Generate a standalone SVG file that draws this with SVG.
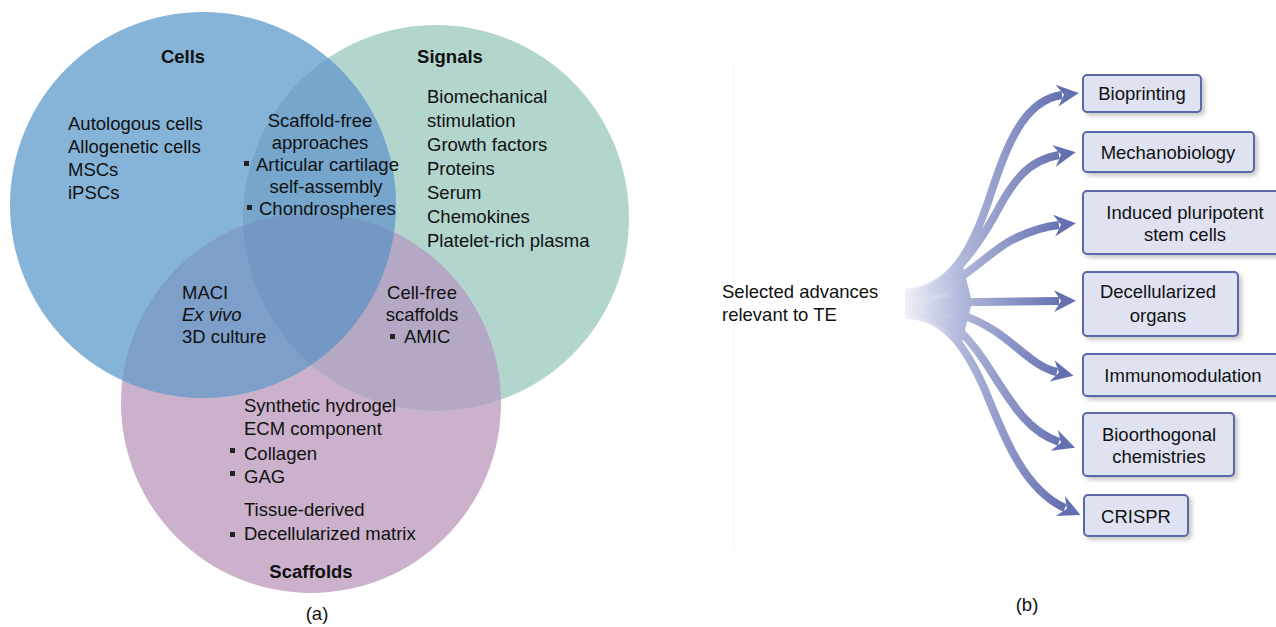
<svg xmlns="http://www.w3.org/2000/svg" width="1276" height="627" viewBox="0 0 1276 627">
<defs>
<style>
text{font-family:"Liberation Sans",Arial,sans-serif;font-size:18.5px;fill:#111}
.b{font-weight:bold}
.m{text-anchor:middle}
.box{fill:#dfe2f1;stroke:#5c68a8;stroke-width:2}
.arr{fill:none;stroke:url(#ag);stroke-width:8;marker-end:url(#ah)}
.bl{fill:#222}
</style>
<clipPath id="cC"><circle cx="203" cy="205" r="193"/></clipPath>
<clipPath id="cS"><circle cx="436" cy="218" r="193"/></clipPath>
<linearGradient id="ag" gradientUnits="userSpaceOnUse" x1="900" y1="0" x2="1062" y2="0">
<stop offset="0" stop-color="#eef0f8" stop-opacity="0.3"/>
<stop offset="0.35" stop-color="#b4bbdc"/>
<stop offset="1" stop-color="#6570b0"/>
</linearGradient>
<marker id="ah" markerUnits="userSpaceOnUse" markerWidth="28" markerHeight="28" viewBox="0 -14 28 28" refX="5" refY="0" orient="auto">
<path d="M0,-11 L22,0 L0,11 L7,0 Z" fill="#6570b0"/>
</marker>
<filter id="sh" x="-10%" y="-10%" width="130%" height="140%">
<feDropShadow dx="3" dy="3" stdDeviation="2" flood-color="#888" flood-opacity="0.45"/>
</filter>
</defs>
<rect width="1276" height="627" fill="#ffffff"/>

<g id="venn">
<circle cx="311" cy="403" r="190" fill="#cbb1cc"/>
<circle cx="436" cy="218" r="193" fill="#b2d5cd"/>
<circle cx="203" cy="205" r="193" fill="#86b4d8"/>
<circle cx="436" cy="218" r="193" fill="#76a6cc" clip-path="url(#cC)"/>
<circle cx="311" cy="403" r="190" fill="#7e9fca" clip-path="url(#cC)"/>
<circle cx="311" cy="403" r="190" fill="#b5a8c5" clip-path="url(#cS)"/>
<g clip-path="url(#cC)"><circle cx="311" cy="403" r="190" fill="#7398c4" clip-path="url(#cS)"/></g>
</g>

<g id="cells">
<text class="b m" x="183" y="63">Cells</text>
<text x="68" y="130">Autologous cells</text>
<text x="68" y="153">Allogenetic cells</text>
<text x="68" y="176">MSCs</text>
<text x="68" y="199">iPSCs</text>
</g>

<g id="signals">
<text class="b m" x="450" y="63">Signals</text>
<text x="427" y="103">Biomechanical</text>
<text x="427" y="127">stimulation</text>
<text x="427" y="151">Growth factors</text>
<text x="427" y="175">Proteins</text>
<text x="427" y="199">Serum</text>
<text x="427" y="223">Chemokines</text>
<text x="427" y="247">Platelet-rich plasma</text>
</g>

<g id="scaffold-free">
<text class="m" x="320" y="127">Scaffold-free</text>
<text class="m" x="320" y="149">approaches</text>
<rect class="bl" x="244" y="161" width="5" height="5"/>
<text x="256" y="171">Articular cartilage</text>
<text class="m" x="326" y="193">self-assembly</text>
<rect class="bl" x="247" y="205" width="5" height="5"/>
<text x="259" y="215">Chondrospheres</text>
</g>

<g id="maci">
<text x="182" y="299">MACI</text>
<text x="182" y="321" font-style="italic">Ex vivo</text>
<text x="182" y="343">3D culture</text>
</g>

<g id="cell-free">
<text class="m" x="422" y="299">Cell-free</text>
<text class="m" x="422" y="321">scaffolds</text>
<rect class="bl" x="390" y="334" width="5" height="5"/>
<text x="404" y="343">AMIC</text>
</g>

<g id="scaffolds">
<text x="244" y="412">Synthetic hydrogel</text>
<text x="244" y="435">ECM component</text>
<rect class="bl" x="230" y="448" width="5" height="5"/>
<text x="244" y="460">Collagen</text>
<rect class="bl" x="230" y="471" width="5" height="5"/>
<text x="244" y="483">GAG</text>
<text x="244" y="516">Tissue-derived</text>
<rect class="bl" x="230" y="532" width="5" height="5"/>
<text x="244" y="540">Decellularized matrix</text>
<text class="b m" x="311" y="578">Scaffolds</text>
</g>

<text class="m" x="317" y="620">(a)</text>

<line x1="734" y1="60" x2="734" y2="550" stroke="#f1f3f3" stroke-width="1"/>

<g id="source">
<text x="722" y="298">Selected advances</text>
<text x="722" y="321">relevant to TE</text>
</g>

<g id="connectors">
<path d="M905,289 C925,289 945,280 962,262 L972,302 L962,342 C945,326 925,319 905,319 Z" fill="url(#ag)"/>
<path class="arr" d="M905,292 C952,290 972,248 987,205 C1005,150 1022,100 1062,95"/>
<path class="arr" d="M905,295 C947,292 975,250 995,215 C1012,182 1028,160 1059,155"/>
<path class="arr" d="M905,299 C952,296 980,258 1010,241 C1025,233 1040,227 1059,225"/>
<path class="arr" d="M905,303 L1059,301"/>
<path class="arr" d="M905,307 C945,307 970,315 995,331 C1020,348 1035,367 1057,372"/>
<path class="arr" d="M905,311 C945,311 965,332 985,362 C1010,400 1025,430 1059,442"/>
<path class="arr" d="M905,315 C945,316 965,345 985,390 C1005,440 1025,490 1065,508"/>
</g>

<g id="n-bioprinting">
<rect class="box" filter="url(#sh)" x="1083" y="75" width="118" height="37" rx="4"/>
<text class="m" x="1142" y="100">Bioprinting</text>
</g>
<g id="n-mechanobiology">
<rect class="box" filter="url(#sh)" x="1083" y="132" width="171" height="40" rx="4"/>
<text class="m" x="1168" y="159">Mechanobiology</text>
</g>
<g id="n-ipsc">
<rect class="box" filter="url(#sh)" x="1083" y="191" width="200" height="63" rx="4"/>
<text class="m" x="1185" y="219">Induced pluripotent</text>
<text class="m" x="1185" y="241">stem cells</text>
</g>
<g id="n-decell">
<rect class="box" filter="url(#sh)" x="1083" y="272" width="155" height="64" rx="4"/>
<text class="m" x="1158" y="298">Decellularized</text>
<text class="m" x="1158" y="322">organs</text>
</g>
<g id="n-immuno">
<rect class="box" filter="url(#sh)" x="1083" y="354" width="200" height="42" rx="4"/>
<text class="m" x="1183" y="382">Immunomodulation</text>
</g>
<g id="n-bioorth">
<rect class="box" filter="url(#sh)" x="1083" y="413" width="151" height="63" rx="4"/>
<text class="m" x="1159" y="441">Bioorthogonal</text>
<text class="m" x="1159" y="463">chemistries</text>
</g>
<g id="n-crispr">
<rect class="box" filter="url(#sh)" x="1084" y="495" width="104" height="41" rx="4"/>
<text class="m" x="1136" y="523">CRISPR</text>
</g>

<text class="m" x="1027" y="611">(b)</text>
</svg>
